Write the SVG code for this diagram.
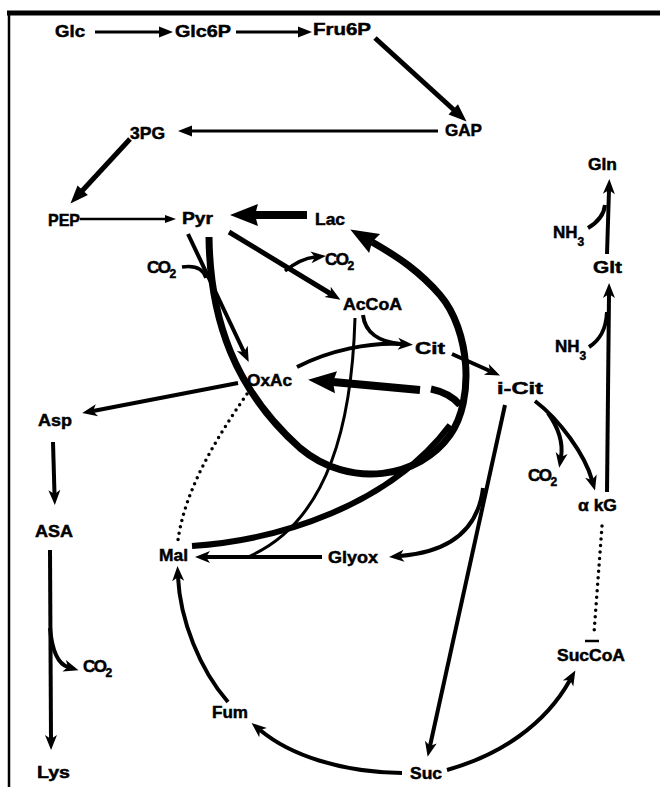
<svg xmlns="http://www.w3.org/2000/svg" width="660" height="787" viewBox="0 0 660 787">
<style>
text{font-family:"Liberation Sans",Arial,Helvetica,sans-serif;font-weight:bold;font-size:17px;fill:#000;stroke:#000;stroke-width:0.5}
.sub{font-size:12px}
.ln{fill:none;stroke:#000;stroke-width:4}
.dot{fill:none;stroke:#000;stroke-width:3.5;stroke-linecap:round;stroke-dasharray:0 6.5}
</style>
<defs>
<marker id="a" markerUnits="userSpaceOnUse" markerWidth="16" markerHeight="12" refX="4" refY="6" orient="auto" overflow="visible"><path d="M0,0 L15,6 L0,12 L4,6 z"/></marker>
<marker id="t" markerUnits="userSpaceOnUse" markerWidth="15" markerHeight="11" refX="1" refY="5.5" orient="auto" overflow="visible"><path d="M0,0 L14,5.5 L0,11 z"/></marker>
<marker id="tb" markerUnits="userSpaceOnUse" markerWidth="19" markerHeight="14" refX="1" refY="7" orient="auto" overflow="visible"><path d="M0,0 L18,7 L0,14 z"/></marker>
<marker id="s" markerUnits="userSpaceOnUse" markerWidth="12" markerHeight="8" refX="1" refY="4" orient="auto" overflow="visible"><path d="M0,0 L11,4 L0,8 z"/></marker>
<marker id="L" markerUnits="userSpaceOnUse" markerWidth="29" markerHeight="22" refX="3" refY="11" orient="auto" overflow="visible"><path d="M0,0 L28,11 L0,22 L3,11 z"/></marker>
</defs>
<rect width="660" height="787" fill="#fff"/>
<g id="frame" fill="none" stroke="#000">
<path d="M7,13 H660" stroke-width="5"/>
<path d="M9,11 V787" stroke-width="2.5"/>
</g>
<g id="connectors">
<path class="ln" style="stroke-width:3" d="M95,32 H160" marker-end="url(#t)"/>
<path class="ln" style="stroke-width:3" d="M236,32 H299" marker-end="url(#t)"/>
<path class="ln" style="stroke-width:5" d="M375,38 L454,110" marker-end="url(#tb)"/>
<path class="ln" style="stroke-width:3" d="M438,131 H191" marker-end="url(#t)"/>
<path class="ln" style="stroke-width:5" d="M130,139 L82,191" marker-end="url(#tb)"/>
<path class="ln" style="stroke-width:2.5" d="M80,219 H166" marker-end="url(#s)"/>
<path class="ln" style="stroke-width:8" d="M307,215 H255" marker-end="url(#L)"/>
<path class="ln" style="stroke-width:5" d="M229,232 L331,294" marker-end="url(#a)"/>
<path class="ln" style="stroke-width:3.5" d="M285,271 C295,263 305,258 315,257" marker-end="url(#a)"/>
<path class="ln" d="M188,234 L244,352" marker-end="url(#a)"/>
<path class="ln" style="stroke-width:3.5" d="M182,267 C195,265 203,268 206,278"/>
<path class="ln" style="stroke-width:7" d="M209,237 C210,320 235,390 300,448 C350,490 420,478 450,435 C475,400 470,330 440,295 C420,272 400,258 372,242" marker-end="url(#L)"/>
<path class="ln" style="stroke-width:6" d="M192,546 C280,540 390,505 450,425"/>
<path class="ln" style="stroke-width:8" d="M420,390 L333,382" marker-end="url(#L)"/>
<path class="ln" style="stroke-width:7" d="M431,389 Q450,393 460,405"/>
<path class="ln" d="M297,367 C330,350 370,342 402,344" marker-end="url(#a)"/>
<path class="ln" d="M363,315 C365,333 380,342 400,344"/>
<path class="ln" d="M452,354 L490,371" marker-end="url(#a)"/>
<path class="ln" d="M505,405 L430,746" marker-end="url(#a)"/>
<path class="ln" d="M483,488 C478,530 450,552 400,556" marker-end="url(#a)"/>
<path class="ln" d="M322,557 H206" marker-end="url(#a)"/>
<path class="ln" style="stroke-width:3" d="M355,318 C352,420 330,520 250,556"/>
<path class="dot" d="M247,394 C215,440 185,490 178,540"/>
<path class="ln" d="M238,383 L93,411" marker-end="url(#a)"/>
<path class="ln" d="M53,442 L54.5,494" marker-end="url(#a)"/>
<path class="ln" d="M50,550 L51,739" marker-end="url(#a)"/>
<path class="ln" d="M50,628 C52,650 58,664 68,667" marker-end="url(#a)"/>
<path class="ln" d="M228,702 C200,670 180,620 178,577" marker-end="url(#a)"/>
<path class="ln" d="M402,773 C340,772 290,755 260,730" marker-end="url(#a)"/>
<path class="ln" d="M447,770 C500,755 545,725 570,680" marker-end="url(#a)"/>
<path class="dot" d="M602,526 L594,633"/>
<path class="ln" style="stroke-width:2.5" d="M585,641 H599"/>
<path class="ln" d="M535,401 C560,420 585,455 592,480" marker-end="url(#a)"/>
<path class="ln" d="M548,413 C560,430 563,445 561,457" marker-end="url(#a)"/>
<path class="ln" d="M607,492 L609,294" marker-end="url(#a)"/>
<path class="ln" d="M589,347 C600,340 606,330 607,312"/>
<path class="ln" d="M607,254 L609,190" marker-end="url(#a)"/>
<path class="ln" d="M588,228 C598,222 604,215 605,205"/>
</g>
<g id="n-glc"><text x="55" y="37" textLength="30" lengthAdjust="spacingAndGlyphs">Glc</text></g>
<g id="n-glc6p"><text x="175" y="37" textLength="56" lengthAdjust="spacingAndGlyphs">Glc6P</text></g>
<g id="n-fru6p"><text x="313" y="35" textLength="58" lengthAdjust="spacingAndGlyphs">Fru6P</text></g>
<g id="n-3pg"><text x="130" y="139" textLength="35" lengthAdjust="spacingAndGlyphs">3PG</text></g>
<g id="n-gap"><text x="445" y="136" textLength="37" lengthAdjust="spacingAndGlyphs">GAP</text></g>
<g id="n-gln"><text x="588" y="170" textLength="29" lengthAdjust="spacingAndGlyphs">Gln</text></g>
<g id="n-pep"><text x="48" y="226" textLength="32" lengthAdjust="spacingAndGlyphs">PEP</text></g>
<g id="n-pyr"><text x="182" y="224" textLength="31" lengthAdjust="spacingAndGlyphs">Pyr</text></g>
<g id="n-lac"><text x="315" y="225" textLength="30" lengthAdjust="spacingAndGlyphs">Lac</text></g>
<g id="n-co2a"><text x="147" y="273" letter-spacing="-1.5">CO<tspan class="sub" dy="5">2</tspan></text></g>
<g id="n-co2b"><text x="325" y="265" letter-spacing="-1.5">CO<tspan class="sub" dy="5">2</tspan></text></g>
<g id="n-accoa"><text x="343" y="310" textLength="59" lengthAdjust="spacingAndGlyphs">AcCoA</text></g>
<g id="n-cit"><text x="415" y="354" textLength="30" lengthAdjust="spacingAndGlyphs">Cit</text></g>
<g id="n-icit"><text x="497" y="394" textLength="46" lengthAdjust="spacingAndGlyphs">i-Cit</text></g>
<g id="n-oxac"><text x="247" y="386" textLength="45" lengthAdjust="spacingAndGlyphs">OxAc</text></g>
<g id="n-nh3a"><text x="553" y="238">NH<tspan class="sub" dy="8">3</tspan></text></g>
<g id="n-glt"><text x="593" y="273" textLength="29" lengthAdjust="spacingAndGlyphs">Glt</text></g>
<g id="n-nh3b"><text x="555" y="352">NH<tspan class="sub" dy="8">3</tspan></text></g>
<g id="n-asp"><text x="38" y="426" textLength="34" lengthAdjust="spacingAndGlyphs">Asp</text></g>
<g id="n-asa"><text x="35" y="537" textLength="38" lengthAdjust="spacingAndGlyphs">ASA</text></g>
<g id="n-mal"><text x="159" y="561" textLength="29" lengthAdjust="spacingAndGlyphs">Mal</text></g>
<g id="n-glyox"><text x="328" y="563" textLength="50" lengthAdjust="spacingAndGlyphs">Glyox</text></g>
<g id="n-co2c"><text x="528" y="481" letter-spacing="-1.5">CO<tspan class="sub" dy="5">2</tspan></text></g>
<g id="n-akg"><text x="578" y="511" textLength="39" lengthAdjust="spacingAndGlyphs">α kG</text></g>
<g id="n-succoa"><text x="557" y="661" textLength="68" lengthAdjust="spacingAndGlyphs">SucCoA</text></g>
<g id="n-co2d"><text x="83" y="672" letter-spacing="-1.5">CO<tspan class="sub" dy="5">2</tspan></text></g>
<g id="n-fum"><text x="212" y="718" textLength="36" lengthAdjust="spacingAndGlyphs">Fum</text></g>
<g id="n-lys"><text x="37" y="778" textLength="33" lengthAdjust="spacingAndGlyphs">Lys</text></g>
<g id="n-suc"><text x="410" y="779" textLength="32" lengthAdjust="spacingAndGlyphs">Suc</text></g>
</svg>
